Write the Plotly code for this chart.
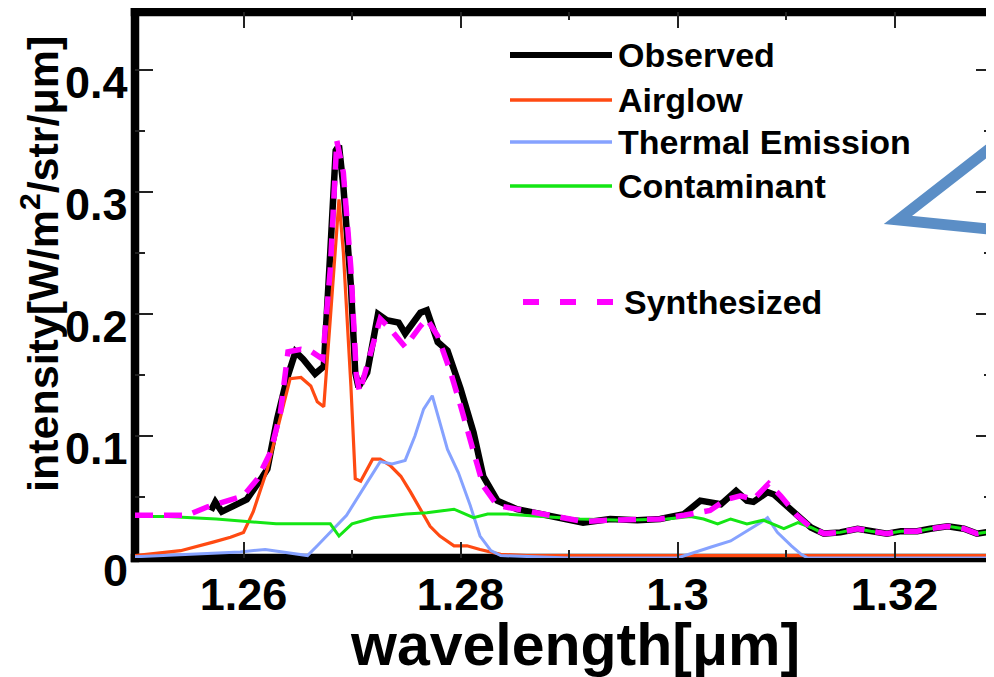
import plotly.graph_objects as go

# ---------------- data ----------------
obs_wl = [1.2570, 1.2574, 1.2580, 1.2597, 1.2603, 1.2617, 1.2622, 1.2631, 1.2640, 1.2648,
          1.2655, 1.2666, 1.2674, 1.2680, 1.2685, 1.2688, 1.2692, 1.2699, 1.2703, 1.2706,
          1.2714, 1.2724, 1.2732, 1.2743, 1.2749, 1.2763, 1.2769, 1.2779, 1.2788, 1.2800,
          1.2812, 1.2821, 1.2834, 1.2852, 1.2867, 1.2880, 1.2898, 1.2913, 1.2938, 1.2963,
          1.2984, 1.3006, 1.3021, 1.3040, 1.3054, 1.3064, 1.3070, 1.3083, 1.3089, 1.3101,
          1.3113, 1.3123, 1.3135, 1.3150, 1.3166, 1.3178, 1.3193, 1.3206, 1.3221, 1.3233,
          1.3249, 1.3264, 1.3276, 1.3291, 1.3300]
obs_val = [0.039, 0.046, 0.038, 0.046, 0.048, 0.066, 0.073, 0.114, 0.147, 0.169,
           0.163, 0.151, 0.157, 0.251, 0.334, 0.338, 0.305, 0.223, 0.152, 0.140,
           0.152, 0.200, 0.195, 0.193, 0.184, 0.201, 0.203, 0.177, 0.170, 0.139,
           0.103, 0.067, 0.047, 0.040, 0.037, 0.035, 0.032, 0.029, 0.032, 0.031,
           0.032, 0.036, 0.047, 0.044, 0.055, 0.047, 0.046, 0.054, 0.052, 0.043,
           0.034, 0.025, 0.020, 0.021, 0.024, 0.022, 0.020, 0.022, 0.022, 0.024,
           0.026, 0.024, 0.020, 0.022, 0.022]

air_wl = [1.2500, 1.2542, 1.2572, 1.2588, 1.2600, 1.2609, 1.2622, 1.2634, 1.2643, 1.2653,
          1.2662, 1.2668, 1.2674, 1.2680, 1.2688, 1.2692, 1.2699, 1.2703, 1.2708, 1.2719,
          1.2726, 1.2735, 1.2745, 1.2754, 1.2763, 1.2772, 1.2781, 1.2794, 1.2806, 1.2818,
          1.2837, 1.2861, 1.2900, 1.3300]
air_val = [0.002, 0.006, 0.013, 0.017, 0.021, 0.038, 0.073, 0.114, 0.147, 0.148,
           0.141, 0.128, 0.124, 0.196, 0.294, 0.251, 0.141, 0.065, 0.063, 0.081,
           0.081, 0.076, 0.067, 0.054, 0.040, 0.026, 0.018, 0.010, 0.010, 0.007,
           0.003, 0.002, 0.002, 0.002]

th_wl = [1.2500, 1.2597, 1.2620, 1.2637, 1.2659, 1.2668, 1.2680, 1.2695, 1.2714, 1.2726,
         1.2737, 1.2749, 1.2758, 1.2766, 1.2774, 1.2780, 1.2788, 1.2798, 1.2809, 1.2818,
         1.2828, 1.2837, 1.2900, 1.3000, 1.3010, 1.3031, 1.3049, 1.3068, 1.3080, 1.3083,
         1.3092, 1.3105, 1.3114, 1.3120, 1.3300]
th_val = [0.001, 0.005, 0.007, 0.005, 0.002, 0.010, 0.021, 0.035, 0.062, 0.079,
          0.077, 0.080, 0.100, 0.122, 0.133, 0.114, 0.089, 0.070, 0.043, 0.018,
          0.006, 0.002, 0.000, 0.000, 0.003, 0.009, 0.014, 0.024, 0.031, 0.033,
          0.021, 0.010, 0.003, 0.000, 0.000]

con_wl = [1.2500, 1.2530, 1.2575, 1.2590, 1.2630, 1.2660, 1.2680, 1.2688, 1.2700, 1.2720,
          1.2750, 1.2769, 1.2794, 1.2812, 1.2825, 1.2843, 1.2861, 1.2910, 1.2950, 1.2990,
          1.3012, 1.3024, 1.3037, 1.3049, 1.3064, 1.3079, 1.3098, 1.3111, 1.3123, 1.3135,
          1.3150, 1.3166, 1.3178, 1.3193, 1.3206, 1.3221, 1.3233, 1.3249, 1.3264, 1.3276,
          1.3291, 1.3300]
con_val = [0.034, 0.034, 0.032, 0.031, 0.028, 0.028, 0.028, 0.018, 0.028, 0.033,
           0.036, 0.037, 0.040, 0.033, 0.036, 0.036, 0.035, 0.032, 0.031, 0.032,
           0.034, 0.032, 0.028, 0.032, 0.028, 0.031, 0.024, 0.029, 0.025, 0.020,
           0.021, 0.024, 0.022, 0.020, 0.022, 0.022, 0.024, 0.026, 0.024, 0.020,
           0.022, 0.022]

syn_wl = [1.2500, 1.2548, 1.2567, 1.2588, 1.2600, 1.2613, 1.2625, 1.2634, 1.2641, 1.2653,
          1.2663, 1.2673, 1.2680, 1.2686, 1.2692, 1.2699, 1.2704, 1.2707, 1.2726, 1.2735,
          1.2749, 1.2763, 1.2769, 1.2779, 1.2791, 1.2800, 1.2812, 1.2821, 1.2834, 1.2852,
          1.2867, 1.2880, 1.2898, 1.2913, 1.2938, 1.2963, 1.2984, 1.3006, 1.3030, 1.3045,
          1.3058, 1.3070, 1.3084, 1.3095, 1.3110, 1.3123, 1.3135, 1.3150, 1.3166, 1.3178,
          1.3193, 1.3206, 1.3221, 1.3233, 1.3249, 1.3264, 1.3276, 1.3291, 1.3300]
syn_val = [0.035, 0.035, 0.042, 0.048, 0.051, 0.065, 0.087, 0.119, 0.169, 0.171,
           0.169, 0.163, 0.237, 0.342, 0.316, 0.237, 0.150, 0.136, 0.196, 0.188,
           0.173, 0.190, 0.196, 0.182, 0.152, 0.125, 0.087, 0.059, 0.043, 0.040,
           0.037, 0.035, 0.032, 0.030, 0.031, 0.031, 0.032, 0.035, 0.039, 0.048,
           0.051, 0.048, 0.061, 0.051, 0.035, 0.025, 0.020, 0.021, 0.024, 0.022,
           0.020, 0.022, 0.022, 0.024, 0.026, 0.024, 0.020, 0.022, 0.022]

x_tickvals = [1.26, 1.28, 1.30, 1.32]
x_ticktext = ["1.26", "1.28", "1.3", "1.32"]
x_minorvals = [1.25, 1.27, 1.29, 1.31, 1.33]
y_tickvals = [0, 0.1, 0.2, 0.3, 0.4]
y_ticktext = ["0", "0.1", "0.2", "0.3", "0.4"]
y_minorvals = [0.05, 0.15, 0.25, 0.35]

names = ["Observed", "Airglow", "Thermal Emission", "Contaminant", "Synthesized"]
colors = ["#000000", "#ff4a12", "#86a2ff", "#14e614", "#ff00ff"]

# ---------------- layout geometry (page pixels) ----------------
OFF = 8                      # default body margin of the html page
W, H = 994, 677              # browser window
L, R, T, B = 135, 994, 12, 558   # plot area edges in page pixels
PW, PH = R - L, B - T


def px(x):
    return (x - L) / PW


def py(y):
    return (B - y) / PH


fig = go.Figure()
fig.add_trace(go.Scatter(x=obs_wl, y=obs_val, mode="lines", name=names[0],
                         line=dict(color=colors[0], width=6.5)))
fig.add_trace(go.Scatter(x=air_wl, y=air_val, mode="lines", name=names[1],
                         line=dict(color=colors[1], width=3.2)))
fig.add_trace(go.Scatter(x=th_wl, y=th_val, mode="lines", name=names[2],
                         line=dict(color=colors[2], width=3)))
fig.add_trace(go.Scatter(x=con_wl, y=con_val, mode="lines", name=names[3],
                         line=dict(color=colors[3], width=3)))
fig.add_trace(go.Scatter(x=syn_wl, y=syn_val, mode="lines", name=names[4],
                         line=dict(color=colors[4], width=5.5, dash="18px,11px")))

FAM = "Liberation Sans, Arial, sans-serif"
tickfont = dict(family=FAM, size=45, color="black", weight="bold")

fig.update_layout(
    width=W - OFF, height=H - OFF,
    margin=dict(l=L - OFF, r=W - R, t=T - OFF, b=H - B, pad=0),
    paper_bgcolor="white", plot_bgcolor="rgba(0,0,0,0)",
    showlegend=False,
    xaxis=dict(range=[1.25, 1.25 + (R - L) / 10850.0], showgrid=False, zeroline=False,
               showline=False, mirror="ticks", ticks="inside", ticklen=16, tickwidth=2,
               tickcolor="#222", tickvals=x_tickvals, ticktext=x_ticktext,
               tickfont=tickfont, ticklabelstandoff=6,
               minor=dict(tickvals=x_minorvals, ticks="inside", ticklen=8, tickwidth=2,
                          tickcolor="#222", showgrid=False)),
    yaxis=dict(range=[0, (B - T) / 1220.0], showgrid=False, zeroline=False,
               showline=False, mirror="ticks", ticks="inside", ticklen=18, tickwidth=2,
               tickcolor="#222", tickvals=y_tickvals, ticktext=y_ticktext,
               showticklabels=False,
               minor=dict(tickvals=y_minorvals, ticks="inside", ticklen=10, tickwidth=2,
                          tickcolor="#222", showgrid=False)),
)

shapes = []
# frame (left, bottom, top) drawn under the curves
FW = 8.5
ex = FW / 2 / PW
ey = FW / 2 / PH
for (x0, y0, x1, y1) in [(0, -ey, 0, 1 + ey), (-ex, 0, 1.02, 0), (-ex, 1, 1.02, 1)]:
    shapes.append(dict(type="line", xref="paper", yref="paper", x0=x0, y0=y0, x1=x1, y1=y1,
                       line=dict(color="black", width=FW), layer="below"))

# manual legend line samples
leg_rows = [55, 100, 142, 186]
leg_widths = [6, 3.5, 3.5, 3.5]
for i, yy in enumerate(leg_rows):
    shapes.append(dict(type="line", xref="paper", yref="paper",
                       x0=px(510), x1=px(612), y0=py(yy), y1=py(yy),
                       line=dict(color=colors[i], width=leg_widths[i])))
shapes.append(dict(type="line", xref="paper", yref="paper",
                   x0=px(523), x1=px(615), y0=py(302), y1=py(302),
                   line=dict(color=colors[4], width=6, dash="16px,21px")))

# blue callout triangle (extends past the right edge)
tri = [(898, 220), (1070, 86), (1070, 237)]
path = "M {} {} L {} {} L {} {} Z".format(px(tri[0][0]), py(tri[0][1]), px(tri[1][0]), py(tri[1][1]),
                                          px(tri[2][0]), py(tri[2][1]))
shapes.append(dict(type="path", xref="paper", yref="paper", path=path,
                   line=dict(color="#5b8ec6", width=11), fillcolor="rgba(0,0,0,0)"))
fig.update_layout(shapes=shapes)

annots = []
legfont = dict(family=FAM, size=34, color="black", weight="bold")
for i, yy in enumerate(leg_rows):
    annots.append(dict(x=px(616), y=py(yy), xref="paper", yref="paper", text=names[i],
                       showarrow=False, xanchor="left", yanchor="middle", font=legfont))
annots.append(dict(x=px(622), y=py(302), xref="paper", yref="paper", text=names[4],
                   showarrow=False, xanchor="left", yanchor="middle", font=legfont))
# y tick labels (sit slightly below their ticks, as in the reference)
for v, t in zip(y_tickvals, y_ticktext):
    annots.append(dict(x=px(130), y=v, xref="paper", yref="y", text=t, showarrow=False,
                       xanchor="right", yanchor="middle", yshift=-12, font=tickfont))
# axis titles
annots.append(dict(x=px(575), y=py(645), xref="paper", yref="paper", text="wavelength[μm]",
                   showarrow=False, xanchor="center", yanchor="middle",
                   font=dict(family=FAM, size=59, color="black", weight="bold")))
annots.append(dict(x=px(40), y=py(264), xref="paper", yref="paper",
                   text="intensity[W/m<sup>2</sup>/str/μm]", textangle=-90,
                   showarrow=False, xanchor="center", yanchor="middle",
                   font=dict(family=FAM, size=43, color="black", weight="bold")))
fig.update_layout(annotations=annots)

fig.write_html("out.html")
